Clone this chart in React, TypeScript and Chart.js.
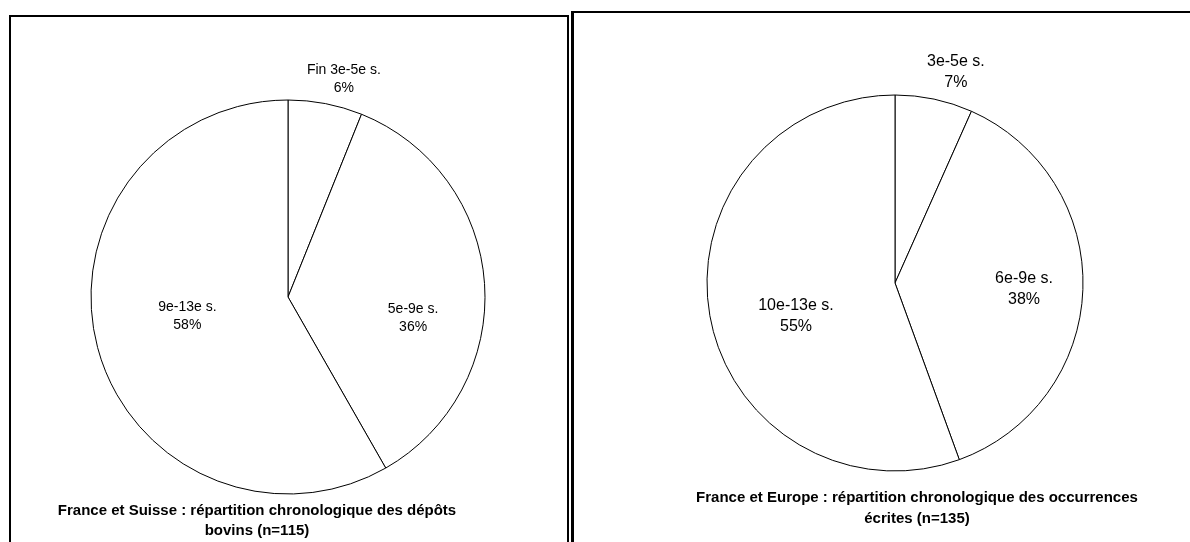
import React, { useEffect, useRef } from "react";
import { Chart, registerables } from "chart.js";

Chart.register(...registerables);

// ---------- data ----------
const leftCategories = ["Fin 3e-5e s.", "5e-9e s.", "9e-13e s."];
const leftCounts = [7, 41, 67];
const leftPercentLabels = ["6%", "36%", "58%"];
const leftTitle = ["France et Suisse : répartition chronologique des dépôts", "bovins (n=115)"];

const rightCategories = ["3e-5e s.", "6e-9e s.", "10e-13e s."];
const rightCounts = [9, 51, 75];
const rightPercentLabels = ["7%", "38%", "55%"];
const rightTitle = ["France et Europe : répartition chronologique des occurrences", "écrites (n=135)"];

// ---------- layout ----------
const W = 1190;
const H = 542;
const FONT = "'Liberation Sans', Arial, Helvetica, sans-serif";

type Anchor = { angle: number; rf: number };

const leftLayout = {
  cx: 288,
  cy: 297,
  r: 197,
  fontSize: 14,
  lineGap: 18,
  anchors: [
    { angle: 14.4, rf: 1.14 },
    { angle: 99.5, rf: 0.644 },
    { angle: 259.3, rf: 0.52 },
  ] as Anchor[],
};

const rightLayout = {
  cx: 895,
  cy: 283,
  r: 188,
  fontSize: 16,
  lineGap: 21.5,
  anchors: [
    { angle: 16.1, rf: 1.168 },
    { angle: 92.7, rf: 0.687 },
    { angle: 251.6, rf: 0.555 },
  ] as Anchor[],
};

const pieLabelsPlugin = {
  id: "pieLabels",
  afterDatasetsDraw(chart: any, _args: any, opts: any) {
    const meta = chart.getDatasetMeta(0);
    const ctx = chart.ctx;
    const cats: string[] = chart.data.labels;
    const pcts: string[] = opts.percents;
    const anchors: Anchor[] = opts.anchors;
    ctx.save();
    ctx.fillStyle = "#000000";
    ctx.textAlign = "center";
    ctx.textBaseline = "middle";
    ctx.font = `${opts.fontSize}px ${FONT}`;
    meta.data.forEach((arc: any, i: number) => {
      const p = arc.getProps(["x", "y", "outerRadius"], true);
      const a = anchors[i];
      const th = (a.angle * Math.PI) / 180;
      const px = p.x + a.rf * p.outerRadius * Math.sin(th);
      const py = p.y - a.rf * p.outerRadius * Math.cos(th);
      ctx.fillText(cats[i], px, py - opts.lineGap / 2);
      ctx.fillText(pcts[i], px, py + opts.lineGap / 2);
    });
    ctx.restore();
  },
};

function PieChart(props: {
  categories: string[];
  values: number[];
  percents: string[];
  layout: typeof leftLayout;
}) {
  const ref = useRef<HTMLCanvasElement>(null);
  useEffect(() => {
    const canvas = ref.current!;
    const L = props.layout;
    const half = L.r + 3;
    const chart = new Chart(canvas, {
      type: "pie",
      data: {
        labels: props.categories,
        datasets: [
          {
            data: props.values,
            backgroundColor: "#ffffff",
            borderColor: "#000000",
            borderWidth: 1,
            radius: L.r,
          } as any,
        ],
      },
      options: {
        responsive: false,
        animation: false,
        events: [],
        layout: {
          padding: {
            left: L.cx - half,
            right: W - L.cx - half,
            top: L.cy - half,
            bottom: H - L.cy - half,
          },
        },
        plugins: {
          legend: { display: false },
          tooltip: { enabled: false },
          pieLabels: {
            percents: props.percents,
            anchors: L.anchors,
            fontSize: L.fontSize,
            lineGap: L.lineGap,
          },
        } as any,
      },
      plugins: [pieLabelsPlugin],
    });
    return () => chart.destroy();
  }, []);
  return (
    <canvas
      ref={ref}
      width={W}
      height={H}
      style={{ position: "absolute", left: 0, top: 0, width: W, height: H }}
    />
  );
}

function Title(props: { lines: string[]; cx: number; top: number; lineHeight: number; size: number }) {
  const w = 600;
  return (
    <div
      style={{
        position: "absolute",
        left: props.cx - w / 2,
        top: props.top,
        width: w,
        textAlign: "center",
        fontFamily: FONT,
        fontWeight: "bold",
        fontSize: props.size,
        lineHeight: `${props.lineHeight}px`,
        whiteSpace: "nowrap",
        color: "#000",
      }}
    >
      {props.lines.map((l, i) => (
        <div key={i}>{l}</div>
      ))}
    </div>
  );
}

export default function App() {
  return (
    <div
      style={{
        position: "absolute",
        left: 0,
        top: 0,
        width: W,
        height: H,
        overflow: "hidden",
        background: "#ffffff",
      }}
    >
      <div
        style={{
          position: "absolute",
          left: 9,
          top: 15,
          width: 560,
          height: 560,
          border: "2px solid #000",
          boxSizing: "border-box",
        }}
      />
      <div
        style={{
          position: "absolute",
          left: 571,
          top: 11,
          width: 700,
          height: 560,
          borderTop: "2px solid #000",
          borderLeft: "3px solid #000",
          boxSizing: "border-box",
        }}
      />
      <PieChart
        categories={leftCategories}
        values={leftCounts}
        percents={leftPercentLabels}
        layout={leftLayout}
      />
      <PieChart
        categories={rightCategories}
        values={rightCounts}
        percents={rightPercentLabels}
        layout={rightLayout}
      />
      <Title lines={leftTitle} cx={257} top={500} lineHeight={20} size={15} />
      <Title lines={rightTitle} cx={917} top={486} lineHeight={21} size={15} />
    </div>
  );
}
